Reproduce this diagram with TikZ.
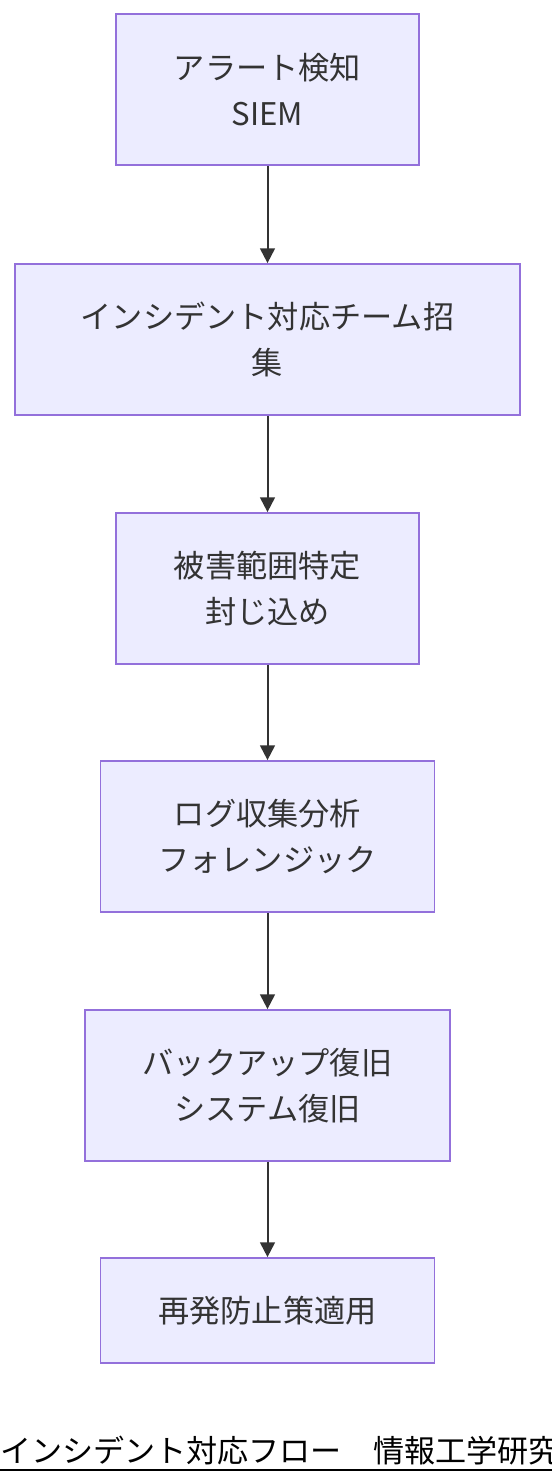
\documentclass[tikz,border=0pt]{standalone}
\usepackage{fontspec}
\setmainfont{Noto Sans CJK JP}
\usetikzlibrary{arrows.meta}
\definecolor{boxfill}{HTML}{ECECFF}
\definecolor{boxline}{HTML}{9370DB}
\definecolor{ink}{HTML}{333333}
\begin{document}
\begin{tikzpicture}[x=0.75pt,y=-0.75pt,
		stepbox/.style={draw=boxline, fill=boxfill, line width=1.3pt, text=ink, align=center,
			font=\fontsize{23.4pt}{34.5pt}\selectfont, inner sep=0pt, minimum height=113.25pt},
		flow/.style={draw=ink, line width=1.5pt, -{Triangle[length=11pt,width=11pt]}}]
			\useasboundingbox (0,0) rectangle (552,1484);
			\node [stepbox, minimum width=227.25pt] (alert) at (267.5,89.5) {アラート検知\\SIEM};
			\node [stepbox, minimum width=378.75pt] (team) at (267.5,339.5) {インシデント対応チーム招\\集};
			\node [stepbox, minimum width=227.25pt] (scope) at (267.5,588.5) {被害範囲特定\\封じ込め};
			\node [stepbox, minimum width=250.5pt] (forensic) at (267.5,836.5) {ログ収集分析\\フォレンジック};
			\node [stepbox, minimum width=273.75pt] (restore) at (267.5,1085.5) {バックアップ復旧\\システム復旧};
			\node [stepbox, minimum width=250.5pt, minimum height=78.75pt] (prevent) at (267.5,1310.5) {再発防止策適用};

			\foreach \a/\b in {alert/team, team/scope, scope/forensic, forensic/restore, restore/prevent} {
				\draw [flow] (\a.south) -- (\b.north);
			}

			% caption
			\node [anchor=base west, inner sep=0pt, font=\fontsize{23.3pt}{28pt}\selectfont] (caption) at (0,1462) {インシデント対応フロー　情報工学研究室};
			\draw [line width=2.2pt] (0,1470) -- (552,1470);
		\end{tikzpicture}
\end{document}
